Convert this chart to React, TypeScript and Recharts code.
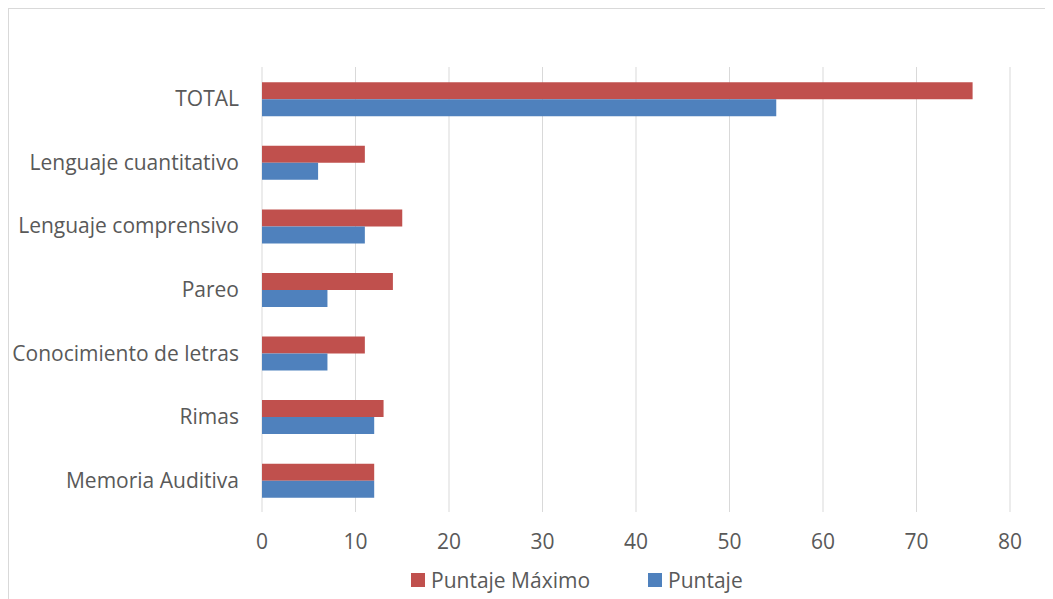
import { BarChart, Bar, XAxis, YAxis, CartesianGrid, Legend } from 'recharts';

const categories = [
  'TOTAL',
  'Lenguaje cuantitativo',
  'Lenguaje comprensivo',
  'Pareo',
  'Conocimiento de letras',
  'Rimas',
  'Memoria Auditiva',
];
const puntajeMaximo = [76, 11, 15, 14, 11, 13, 12];
const puntaje = [55, 6, 11, 7, 7, 12, 12];
const xTicks = [0, 10, 20, 30, 40, 50, 60, 70, 80];

const series = [
  { key: 'maximo', name: 'Puntaje Máximo', color: '#C0504D' },
  { key: 'puntaje', name: 'Puntaje', color: '#4F81BD' },
];

const FONT = '"Open Sans", sans-serif';
const TEXT = '#595959';

function LegendContent() {
  return (
    <div style={{ display: 'flex', alignItems: 'center', fontFamily: FONT, fontSize: 21, color: TEXT, height: 26 }}>
      {series.map((s, i) => (
        <div key={s.key} style={{ display: 'flex', alignItems: 'center', marginRight: i === 0 ? 58 : 0 }}>
          <span style={{ width: 14, height: 14, background: s.color, display: 'inline-block', marginRight: 6 }} />
          <span>{s.name}</span>
        </div>
      ))}
    </div>
  );
}

export default function App() {
  const data = categories.map((name, i) => ({
    name,
    maximo: puntajeMaximo[i],
    puntaje: puntaje[i],
  }));

  return (
    <div
      style={{
        width: 1044,
        height: 590,
        borderTop: '1px solid #d9d9d9',
        borderLeft: '1px solid #d9d9d9',
        background: '#fff',
      }}
    >
      <BarChart
        width={1044}
        height={590}
        data={data}
        layout="vertical"
        margin={{ top: 58, right: 43, left: 0, bottom: 6 }}
        barCategoryGap="24%"
        barGap={0}
      >
        <CartesianGrid horizontal={false} stroke="#d9d9d9" />
        <XAxis
          type="number"
          domain={[0, 80]}
          ticks={xTicks}
          axisLine={false}
          tickLine={false}
          tickSize={0}
          tickMargin={22}
          height={55}
          tick={{ fill: TEXT, fontSize: 21, fontFamily: FONT }}
        />
        <YAxis
          type="category"
          dataKey="name"
          width={253}
          axisLine={false}
          tickLine={false}
          tickSize={0}
          tickMargin={23}
          tick={{ fill: TEXT, fontSize: 21, fontFamily: FONT }}
        />
        <Legend
          verticalAlign="bottom"
          height={26}
          wrapperStyle={{ left: 402, width: 460 }}
          content={() => <LegendContent />}
        />
        {series.map((s) => (
          <Bar key={s.key} dataKey={s.key} name={s.name} fill={s.color} isAnimationActive={false} />
        ))}
      </BarChart>
    </div>
  );
}
